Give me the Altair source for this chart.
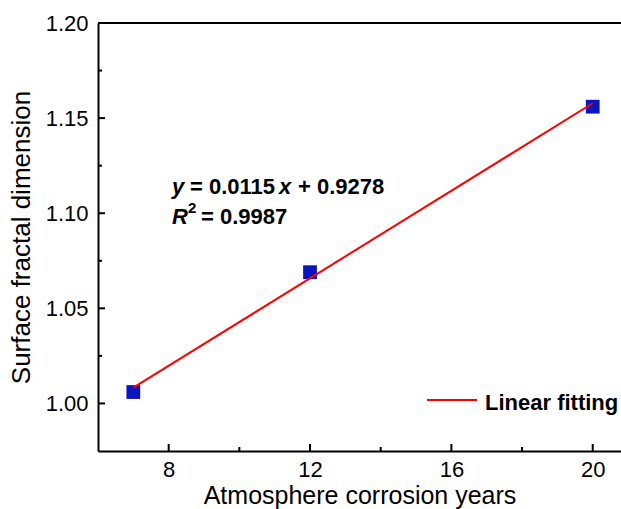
import altair as alt
import pandas as pd

# Measured surface fractal dimension after atmospheric corrosion
years = [7, 12, 20]
fractal_dim = [1.006, 1.069, 1.156]

# Linear fit coefficients (as stated in the equation label)
slope = 0.0115
intercept = 0.9278
r_squared = 0.9987

x_major = [8, 12, 16, 20]
x_minor = [10, 14, 18]
y_major = [1.00, 1.05, 1.10, 1.15, 1.20]
y_minor = [1.025, 1.075, 1.125, 1.175]

W, H = 523, 428
FONT = "Liberation Sans"

pts = pd.DataFrame({"years": years, "dim": fractal_dim})
fit = pd.DataFrame({"years": [min(years), max(years)]})
fit["dim"] = slope * fit["years"] + intercept

xs = alt.Scale(domain=[6, 20.8], nice=False, zero=False)
ys = alt.Scale(domain=[0.975, 1.20], nice=False, zero=False)

x_axis = alt.Axis(values=x_major, title="Atmosphere corrosion years", format="d",
                  ticks=False, grid=False, labelPadding=8, titlePadding=3,
                  titleFontSize=25)
y_axis = alt.Axis(values=y_major, title="Surface fractal dimension", format=".2f",
                  ticks=False, grid=False, labelPadding=10, titlePadding=11,
                  titleFontSize=26)

points = alt.Chart(pts).mark_square(size=190, color="#0A14BE", opacity=1).encode(
    x=alt.X("years:Q", scale=xs, axis=x_axis),
    y=alt.Y("dim:Q", scale=ys, axis=y_axis),
)

line = alt.Chart(fit).mark_line(color="#FF0000", strokeWidth=2).encode(
    x=alt.X("years:Q", scale=xs),
    y=alt.Y("dim:Q", scale=ys),
)

# Inward-pointing tick marks
xt_major = alt.Chart(pd.DataFrame({"v": x_major})).mark_rule(color="black", strokeWidth=2).encode(
    x=alt.X("v:Q", scale=xs), y=alt.value(H), y2=alt.value(H - 7))
xt_minor = alt.Chart(pd.DataFrame({"v": x_minor})).mark_rule(color="black", strokeWidth=2).encode(
    x=alt.X("v:Q", scale=xs), y=alt.value(H), y2=alt.value(H - 4))
yt_major = alt.Chart(pd.DataFrame({"v": y_major})).mark_rule(color="black", strokeWidth=2).encode(
    y=alt.Y("v:Q", scale=ys), x=alt.value(0), x2=alt.value(7))
yt_minor = alt.Chart(pd.DataFrame({"v": y_minor})).mark_rule(color="black", strokeWidth=2).encode(
    y=alt.Y("v:Q", scale=ys), x=alt.value(0), x2=alt.value(4))

# Top frame line
top = alt.Chart(pd.DataFrame({"v": [0]})).mark_rule(color="black", strokeWidth=2).encode(
    x=alt.value(0), x2=alt.value(W + 2), y=alt.value(0))


def label(text, x, y, size=22, style="normal", weight="bold"):
    return alt.Chart(pd.DataFrame({"t": [text]})).mark_text(
        font=FONT, fontSize=size, fontWeight=weight, fontStyle=style,
        align="left", baseline="alphabetic", color="black",
    ).encode(x=alt.value(x), y=alt.value(y), text="t:N")


eq1 = [
    label("y", 74, 171, style="italic"),
    label(f"= {slope:.4f}", 92, 171),
    label("x", 181, 171, style="italic"),
    label(f"+ {intercept:.4f}", 200, 171),
]
eq2 = [
    label("R", 74, 201, style="italic"),
    label("2", 90, 190, size=15),
    label(f"= {r_squared:.4f}", 103, 201),
]

leg_line = alt.Chart(pd.DataFrame({"v": [0]})).mark_rule(color="#FF0000", strokeWidth=2).encode(
    x=alt.value(329), x2=alt.value(379), y=alt.value(377))
leg_text = label("Linear fitting", 387, 387, size=22)

chart = alt.layer(
    points, line, xt_major, xt_minor, yt_major, yt_minor, top,
    *eq1, *eq2, leg_line, leg_text,
).properties(
    width=W, height=H,
    autosize=alt.AutoSizeParams(type="none"),
    padding={"left": 98, "top": 23, "right": 0, "bottom": 58},
).configure_view(stroke=None).configure_axis(
    domainColor="black", domainWidth=2,
    labelFont=FONT, labelFontSize=22, labelColor="black",
    titleFont=FONT, titleFontWeight="normal", titleColor="black",
)

chart.save("out.html", embed_options={"renderer": "svg", "actions": False})
